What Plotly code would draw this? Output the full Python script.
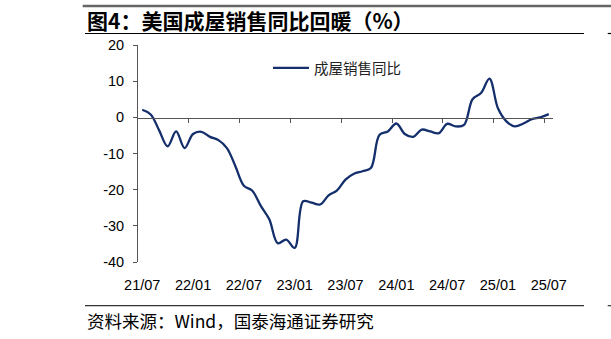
import plotly.graph_objects as go

months = ["21/07","21/08","21/09","21/10","21/11","21/12",
          "22/01","22/02","22/03","22/04","22/05","22/06",
          "22/07","22/08","22/09","22/10","22/11","22/12",
          "23/01","23/02","23/03","23/04","23/05","23/06",
          "23/07","23/08","23/09","23/10","23/11","23/12",
          "24/01","24/02","24/03","24/04","24/05","24/06",
          "24/07","24/08","24/09","24/10","24/11","24/12",
          "25/01","25/02","25/03","25/04","25/05","25/06",
          "25/07"]
yoy = [2.1, 0.8, -3.6, -8.0, -3.9, -8.5,
       -4.6, -4.0, -5.4, -6.3, -8.5, -13.5,
       -18.9, -20.3, -24.5, -28.2, -34.8, -33.8,
       -36.1, -23.2, -23.6, -24.1, -21.6, -20.2,
       -17.2, -15.6, -14.9, -14.0, -4.9, -3.9,
       -1.7, -4.6, -5.4, -3.4, -3.9, -4.4,
       -1.8, -2.5, -2.1, 5.0, 6.7, 10.7,
       2.5, -1.1, -2.5, -1.7, -0.5, 0.0,
       0.9]
series_name = "成屋销售同比"
y_ticks = [20, 10, 0, -10, -20, -30, -40]
y_tick_text = ["20", "10", "0", "-10", "-20", "-30", "-40"]
title_text = "<b>图4：美国成屋销售同比回暖（%）</b>"
source_text = "资料来源：Wind，国泰海通证券研究"

W_FIG, H_FIG = 611, 339
L, R, T, B = 138, 58, 45, 77
PW = W_FIG - L - R
PH = H_FIG - T - B

def X(px):
    return (px - L) / PW

def Y(py):
    return (H_FIG - B - py) / PH

idx = list(range(len(months)))
label_idx = idx[::6]
label_txt = [months[i] for i in label_idx]
tick_between = [i + 5.5 for i in label_idx[:-1]]

LATIN = "Liberation Sans, Arial, sans-serif"
CJK = "Noto Sans CJK SC, sans-serif"
LINE_COLOR = "#142f6c"
AX_COLOR = "#555555"

fig = go.Figure()
fig.add_trace(go.Scatter(
    x=idx, y=yoy, mode="lines", name=series_name,
    line=dict(color=LINE_COLOR, width=2.3, shape="spline", smoothing=1.0),
    hoverinfo="skip"))
fig.add_trace(go.Scatter(
    x=idx, y=[None] * len(idx), xaxis="x2", mode="lines",
    showlegend=False, hoverinfo="skip"))

rng = [-0.5, len(months) - 0.5]
fig.update_layout(
    width=W_FIG, height=H_FIG,
    margin=dict(l=L, r=R, t=T, b=B, pad=0),
    paper_bgcolor="white", plot_bgcolor="white",
    showlegend=True,
    legend=dict(x=X(268), y=Y(52), xanchor="left", yanchor="top",
                font=dict(family=CJK, size=14.5, color="#222222"),
                bgcolor="rgba(0,0,0,0)", borderwidth=0, itemwidth=36),
    xaxis=dict(range=rng, tickmode="array", tickvals=label_idx, ticktext=label_txt,
               showline=False, showgrid=False, zeroline=False,
               ticks="outside", ticklen=0, ticklabelstandoff=10,
               tickfont=dict(family=LATIN, size=14.5, color="black")),
    xaxis2=dict(range=rng, overlaying="x", anchor="free", position=Y(117.7),
                tickmode="array", tickvals=tick_between, showticklabels=False,
                showline=True, linecolor=AX_COLOR, linewidth=1,
                ticks="outside", ticklen=4, tickcolor=AX_COLOR, tickwidth=1,
                showgrid=False, zeroline=False),
    yaxis=dict(range=[-40, 20], tickmode="array", tickvals=y_ticks, ticktext=y_tick_text,
               showline=True, linecolor=AX_COLOR, linewidth=1,
               ticks="outside", ticklen=4, tickcolor=AX_COLOR,
               showgrid=False, zeroline=False, ticklabelstandoff=6,
               tickfont=dict(family=LATIN, size=14.5, color="black")),
)

shapes = [
    dict(type="line", xref="paper", yref="paper", x0=X(82.7), x1=X(612), y0=Y(6), y1=Y(6),
         line=dict(color="#666666", width=2.5)),
    dict(type="line", xref="paper", yref="paper", x0=X(85), x1=X(584), y0=Y(33.5), y1=Y(33.5),
         line=dict(color="black", width=1.2)),
    dict(type="line", xref="paper", yref="paper", x0=X(607.7), x1=X(612), y0=Y(33.5), y1=Y(33.5),
         line=dict(color="black", width=1.2)),
    dict(type="line", xref="paper", yref="paper", x0=X(85), x1=X(584), y0=Y(305.7), y1=Y(305.7),
         line=dict(color="#333333", width=1.2)),
    dict(type="line", xref="paper", yref="paper", x0=X(607.7), x1=X(612), y0=Y(305.7), y1=Y(305.7),
         line=dict(color="#333333", width=1.2)),
]
fig.update_layout(shapes=shapes)

fig.add_annotation(text=title_text, xref="paper", yref="paper", x=X(85), y=Y(20),
                   xanchor="left", yanchor="middle", showarrow=False,
                   font=dict(family=CJK, size=21, color="black"))
fig.add_annotation(text=source_text, xref="paper", yref="paper", x=X(85), y=Y(320),
                   xanchor="left", yanchor="middle", showarrow=False,
                   font=dict(family=CJK, size=17.5, color="black"))

fig.write_html("out.html")
